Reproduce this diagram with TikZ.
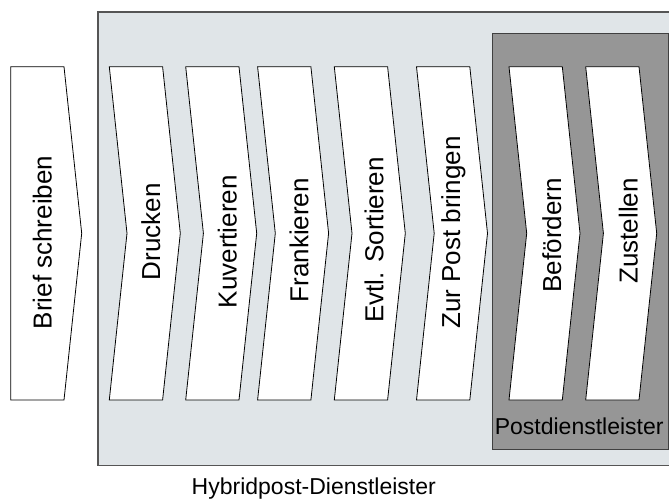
\documentclass[tikz,border=0pt]{standalone}
\usepackage{fontspec}
\setmainfont{Liberation Sans}
\definecolor{lightbg}{RGB}{224,229,232}
\definecolor{darkbg}{RGB}{150,150,150}
\definecolor{framecol}{RGB}{85,85,85}
\begin{document}
\begin{tikzpicture}[x=1pt,y=-1pt,
  chev/.style={draw=black,fill=white,line width=0.8pt,line join=miter},
  lbl/.style={font=\fontsize{26}{30}\selectfont, rotate=90, anchor=base, inner sep=0pt},
  caplbl/.style={font=\fontsize{23}{27}\selectfont, anchor=base, inner sep=0pt}]
\useasboundingbox (0,0) rectangle (669,498);
% outer Hybridpost box (right edge beyond the picture)
\fill[lightbg] (98,12) rectangle (675,465.7);
\draw[framecol, line width=1.3pt] (675,12) -- (98,12) -- (98,465.7) -- (675,465.7);
% Postdienstleister box
\draw[fill=darkbg, draw=black!75, line width=1pt] (492.3,33.3) rectangle (668.3,449.3);
% first step: flat left side
\draw[chev] (10.7,66.7) -- (64,66.7) -- (81.7,233.3) -- (64,400) -- (10.7,400) -- cycle;
% chevrons
\foreach \L in {109.3,185.7,257.6,334.3,416.5,509,585.7}
  \draw[chev] (\L,66.7) -- ++(53.3,0) -- ++(17.7,166.6) -- ++(-17.7,166.7)
     -- ++(-53.3,0) -- ++(17.7,-166.7) -- cycle;
% labels
\node[lbl] (brief) at (51.7,242.5) {Brief schreiben};
\node[lbl] (drucken) at (160,231.7) {Drucken};
\node[lbl] (kuvert) at (236.7,241.7) {Kuvertieren};
\node[lbl] (frank) at (308.3,240.3) {Frankieren};
\node[lbl] (sort) at (383.3,240) {Evtl. Sortieren};
\node[lbl] (zurpost) at (460,232.5) {Zur Post bringen};
\node[lbl] (befoerd) at (561,235.3) {Befördern};
\node[lbl] (zustell) at (637.7,231) {Zustellen};
\node[caplbl] (postdl) at (579.2,434.3) {Postdienstleister};
\node[caplbl] (hybrid) at (313.8,494.3) {Hybridpost-Dienstleister};
\end{tikzpicture}
\end{document}
